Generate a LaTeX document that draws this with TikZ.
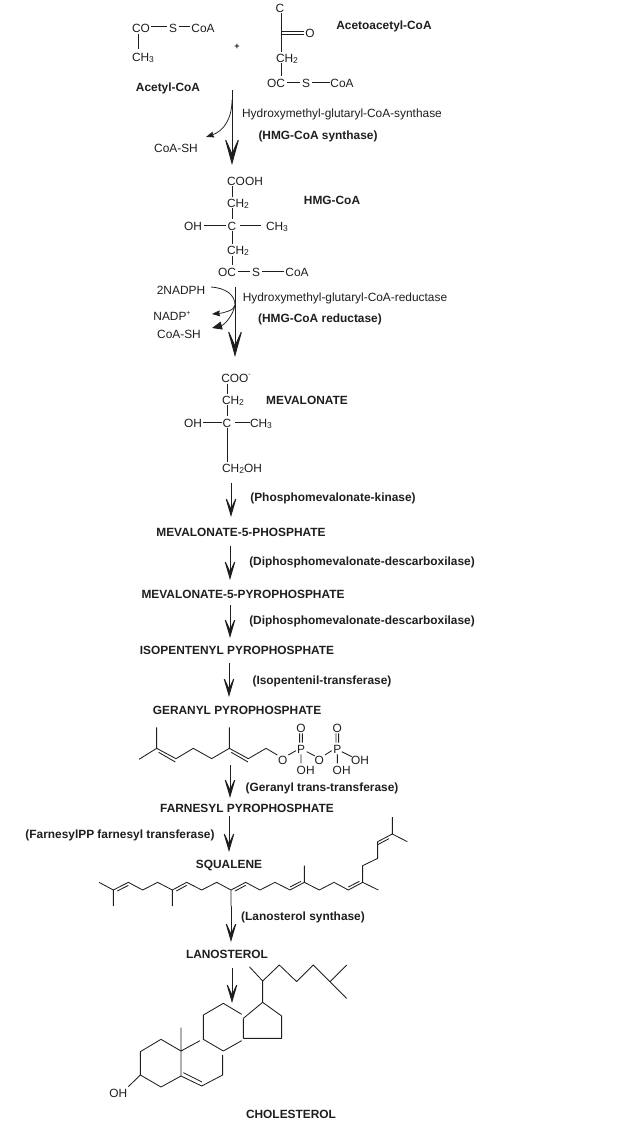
\documentclass[tikz,border=0pt]{standalone}
\usepackage{fontspec}
\setmainfont{Liberation Sans}
\usetikzlibrary{arrows.meta}
\definecolor{ink}{HTML}{1E1E1E}
\newcommand{\sbs}[1]{\raisebox{-0.25ex}{\fontsize{8.5}{9}\selectfont #1}}
\newcommand{\sps}[1]{\raisebox{0.85ex}{\fontsize{7}{8}\selectfont #1}}
\tikzset{
 lbl/.style={inner sep=0pt,text=ink,font=\fontsize{11.9}{13}\selectfont},
 bld/.style={inner sep=0pt,text=ink,font=\fontsize{11.9}{13}\selectfont\bfseries},
 bnd/.style={draw=ink,line width=0.85pt},
 bigflow/.style={draw=ink,line width=1pt,-{Stealth[length=31pt,width=17pt,inset=19pt]}},
 flow/.style={draw=ink,line width=1pt,-{Stealth[length=24pt,width=14pt,inset=15pt]}},
 side/.style={draw=ink,line width=0.75pt,-{Stealth[length=8pt,width=6pt,inset=1pt]}},
 sidebig/.style={draw=ink,line width=0.75pt,-{Stealth[length=10pt,width=8pt,inset=0pt]}}
}
\begin{document}
\begin{tikzpicture}[x=1pt,y=-1pt]
\useasboundingbox (0,0) rectangle (632,1134);
% --- top substrates
\node[lbl] (co) at (141,28) {CO};
\node[lbl] (s1) at (173,28) {S};
\node[lbl] (coa1) at (203,28) {CoA};
\node[lbl] (ch3a) at (143,58) {CH\sbs{3}};
\draw[bnd] (151,26.5)--(167,26.5) (179,26.5)--(190,26.5) (138,34)--(138,49);
\node[lbl] (plus) at (237,47) {\fontsize{9}{9}\selectfont\bfseries +};
\node[lbl] (c1) at (280,8) {C};
\node[lbl] (o1) at (310,33) {O};
\node[lbl] (ch2a) at (287,59) {CH\sbs{2}};
\node[lbl] (oc1) at (276,83) {OC};
\node[lbl] (s2) at (306,83) {S};
\node[lbl] (coa2) at (342,83) {CoA};
\draw[bnd] (281,13)--(281,52) (281,31)--(304,31) (281,34)--(304,34) (281,63)--(281,76) (287,82)--(300,82) (312,82)--(330,82);
\node[bld] (acac) at (384,26) {Acetoacetyl-CoA};
\node[bld] (acet) at (168,88) {Acetyl-CoA};
% --- step 1
\coordinate (a1s) at (232,90); \coordinate (a1e) at (232,165);
\draw[bigflow] (a1s)--(a1e);
\coordinate (b1s) at (232,100); \coordinate (b1e) at (206,137);
\draw[side] (b1s) .. controls (232,118) and (224,131) .. (b1e);
\node[lbl] (coash1) at (176,148) {CoA-SH};
\node[lbl] (enz1) at (342,114) {Hydroxymethyl-glutaryl-CoA-synthase};
\node[bld] (enz1b) at (318,136) {(HMG-CoA synthase)};
% --- HMG-CoA
\node[lbl] (cooh) at (245,181) {COOH};
\node[lbl] (ch2b) at (238,204) {CH\sbs{2}};
\node[lbl] (c2) at (232,226) {C};
\node[lbl] (oh2) at (193,226) {OH};
\node[lbl] (ch3b) at (277,227) {CH\sbs{3}};
\node[lbl] (ch2c) at (238,251) {CH\sbs{2}};
\node[lbl] (oc2) at (227,272) {OC};
\node[lbl] (s3) at (256,272) {S};
\node[lbl] (coa3) at (297,272) {CoA};
\node[bld] (hmg) at (332,200) {HMG-CoA};
\draw[bnd] (232,186)--(232,197) (232,208)--(232,219) (232,231)--(232,244) (232,256)--(232,265)
 (204,225)--(226,225) (240,225)--(261,225) (238,271)--(250,271) (262,271)--(284,271);
% --- step 2
\node[lbl] (nadph) at (181,290) {2NADPH};
\node[lbl] (nadp) at (172,316) {NADP\sps{+}};
\node[lbl] (coash2) at (179,334) {CoA-SH};
\node[lbl] (enz2) at (345,298) {Hydroxymethyl-glutaryl-CoA-reductase};
\node[bld] (enz2b) at (320,319) {(HMG-CoA reductase)};
\coordinate (a2s) at (235,287); \coordinate (a2e) at (235,357);
\draw[bigflow] (a2s)--(a2e);
\coordinate (b2s) at (211,287); \coordinate (b2m) at (235,305); \coordinate (b2e) at (212,314); \coordinate (b3e) at (212,328);
\draw[side] (b2s) .. controls (226,288) and (235,295) .. (b2m) .. controls (235,310) and (224,313) .. (b2e);
\draw[sidebig] (b2m) .. controls (233,316) and (224,325) .. (b3e);
% --- mevalonate
\node[lbl] (coo) at (236,378) {COO\sps{-}};
\node[lbl] (ch2d) at (233,401) {CH\sbs{2}};
\node[lbl] (c3) at (227,423) {C};
\node[lbl] (oh3) at (193,423) {OH};
\node[lbl] (ch3c) at (261,424) {CH\sbs{3}};
\node[lbl] (ch2oh) at (242,469) {CH\sbs{2}OH};
\node[bld] (mev) at (307,400) {MEVALONATE};
\draw[bnd] (227,384)--(227,394) (227,405)--(227,416) (227,428)--(227,462) (203,422)--(222,422) (235,422)--(250,422);
% --- linear steps
\coordinate (a3s) at (231,483); \coordinate (a3e) at (231,517);
\draw[flow] (a3s)--(a3e);
\node[bld] (enz3) at (333,498) {(Phosphomevalonate-kinase)};
\node[bld] (m5p) at (241,532) {MEVALONATE-5-PHOSPHATE};
\coordinate (a4s) at (230,546); \coordinate (a4e) at (230,580);
\draw[flow] (a4s)--(a4e);
\node[bld] (enz4) at (362,562) {(Diphosphomevalonate-descarboxilase)};
\node[bld] (m5pp) at (243,594) {MEVALONATE-5-PYROPHOSPHATE};
\coordinate (a5s) at (230,605); \coordinate (a5e) at (230,638);
\draw[flow] (a5s)--(a5e);
\node[bld] (enz5) at (362,621) {(Diphosphomevalonate-descarboxilase)};
\node[bld] (ipp) at (237,650) {ISOPENTENYL PYROPHOSPHATE};
\coordinate (a6s) at (229,663); \coordinate (a6e) at (229,697);
\draw[flow] (a6s)--(a6e);
\node[bld] (enz6) at (322,681) {(Isopentenil-transferase)};
\node[bld] (gpp) at (237,710) {GERANYL PYROPHOSPHATE};
% --- geranyl skeleton (zoom coords)
\begin{scope}[shift={(130,700)},x=0.33333pt,y=-0.33333pt]
\draw[bnd,line join=round] (27,178)--(80,145)--(138,176)--(190,145)--(245,176)--(298,145)--(355,176)--(408,145)--(442,165);
\draw[bnd] (80,145)--(80,82) (298,145)--(298,82) (86,157)--(136,186) (304,157)--(354,186);
\draw[bnd] (475,165)--(498,152) (530,155)--(555,168) (585,165)--(605,152) (635,155)--(665,170)
 (509,100)--(509,128) (517,100)--(517,128) (618,100)--(618,128) (626,100)--(626,128)
 (513,163)--(513,190) (622,163)--(622,190);
\node[lbl] (go1) at (458,180) {O};
\node[lbl] (gp1) at (513,148) {P};
\node[lbl] (gt1) at (513,85) {O};
\node[lbl] (gh1) at (527,211) {OH};
\node[lbl] (go2) at (568,180) {O};
\node[lbl] (gp2) at (622,148) {P};
\node[lbl] (gt2) at (622,85) {O};
\node[lbl] (gh2) at (635,211) {OH};
\node[lbl] (gh3) at (690,180) {OH};
\end{scope}
\coordinate (a7s) at (230,765); \coordinate (a7e) at (230,798);
\draw[flow] (a7s)--(a7e);
\node[bld] (enz7) at (322,788) {(Geranyl trans-transferase)};
\node[bld] (fpp) at (247,808) {FARNESYL PYROPHOSPHATE};
\coordinate (a8s) at (229,816); \coordinate (a8e) at (229,852);
\draw[flow] (a8s)--(a8e);
\node[bld] (enz8) at (120,835) {(FarnesylPP farnesyl transferase)};
\node[bld] (sq) at (229,866) {SQUALENE};
% --- squalene skeleton
\begin{scope}[shift={(90,820)},x=0.33333pt,y=-0.33333pt]
\draw[bnd,line join=round] (27,187)--(70,210)--(115,187)--(158,210)--(203,187)--(247,210)--(290,187)--(335,210)--(380,187)--(423,210)--(467,187)--(510,210)--(555,187)--(600,210)--(643,187)--(688,210)--(732,187)--(775,210)--(818,187)--(818,137)--(863,115)--(863,65)--(907,42)--(907,-9);
\draw[bnd] (70,210)--(70,258) (247,210)--(247,258) (423,210)--(423,258) (643,187)--(643,137) (818,187)--(865,210) (907,42)--(952,65);
\draw[bnd] (82,213)--(115,196) (259,213)--(290,196) (435,213)--(467,196) (600,201)--(633,184) (775,201)--(808,184) (863,74)--(897,56);
\end{scope}
\coordinate (a9s) at (231,906); \coordinate (a9e) at (231,942);
\draw[flow] (a9s)--(a9e);
\node[bld] (enz9) at (303,917) {(Lanosterol synthase)};
\node[bld] (lan) at (227,954) {LANOSTEROL};
\coordinate (a10s) at (232,968); \coordinate (a10e) at (232,1003);
\draw[flow] (a10s)--(a10e);
% --- cholesterol skeleton
\begin{scope}[shift={(100,950)},x=0.33333pt,y=-0.33333pt]
\draw[bnd,line join=round] (243,303)--(183,268)--(121,305)--(121,375)--(183,411)--(243,378)--cycle;
\draw[bnd] (243,303)--(243,233) (243,303)--(300,272) (121,375)--(85,410);
\draw[bnd,line join=round] (243,378)--(305,408)--(368,375)--(368,315);
\draw[bnd] (250,368)--(306,396);
\draw[bnd,line join=round] (370,303)--(310,268)--(310,195)--(370,160)--(425,193);
\draw[bnd] (370,303)--(425,272) (430,205)--(430,265);
\draw[bnd,line join=round] (430,205)--(488,157)--(545,198)--(545,265)--(430,265);
\draw[bnd,line join=round] (488,157)--(488,93)--(538,45)--(590,95)--(640,45)--(690,95)--(740,45);
\draw[bnd] (488,93)--(448,50) (690,95)--(740,145);
\node[lbl] (oh4) at (55,430) {OH};
\end{scope}
\node[bld] (chol) at (291,1114) {CHOLESTEROL};
\end{tikzpicture}
\end{document}
